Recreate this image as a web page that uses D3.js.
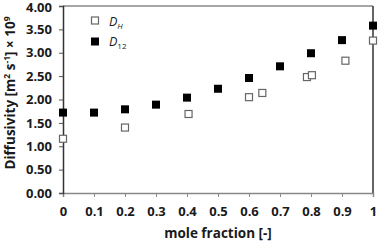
<!DOCTYPE html>
<html lang="en">
<head>
<meta charset="UTF-8">
<title>Diffusivity vs mole fraction</title>
<style>
  body { margin: 0; background: #fff; }
  svg text { font-family: "Open Sans", "Liberation Sans", sans-serif; font-weight: bold; fill: #1a1a1a; }
</style>
</head>
<body>
<div id="chart"></div>
<script src="https://d3js.org/d3.v7.min.js"></script>
<script>
const xTicks = [0, 0.1, 0.2, 0.3, 0.4, 0.5, 0.6, 0.7, 0.8, 0.9, 1]
const yTicks = [0, 0.5, 1, 1.5, 2, 2.5, 3, 3.5, 4]

// D12 (filled squares)
const d12X = [0, 0.1, 0.2, 0.3, 0.4, 0.5, 0.6, 0.7, 0.8, 0.9, 1]
const d12Y = [1.72, 1.72, 1.79, 1.89, 2.04, 2.23, 2.46, 2.71, 2.99, 3.27, 3.58]

// DH (open squares)
const dhX = [0, 0.2, 0.405, 0.6, 0.643, 0.787, 0.803, 0.911, 1]
const dhY = [1.16, 1.40, 1.69, 2.05, 2.14, 2.48, 2.52, 2.83, 3.26]

const width = 378
const height = 242
const plotLeft = 63, plotRight = 373, plotTop = 6, plotBottom = 193

const svg = d3.select('#chart')
    .append('svg')
    .attr('width', width)
    .attr('height', height)

const x = d3.scaleLinear().domain([0, 1]).range([plotLeft, plotRight])
const y = d3.scaleLinear().domain([0, 4]).range([plotBottom, plotTop])

// frame: top and right
svg.append('line')
    .attr('x1', plotLeft).attr('x2', plotRight)
    .attr('y1', plotTop).attr('y2', plotTop)
    .attr('stroke', '#888').attr('stroke-width', 1.5)
svg.append('line')
    .attr('x1', plotRight).attr('x2', plotRight)
    .attr('y1', plotTop).attr('y2', plotBottom)
    .attr('stroke', '#333').attr('stroke-width', 1.5)

const xAxis = svg.append('g')
    .attr('transform', `translate(0, ${plotBottom})`)
    .call(d3.axisBottom(x).tickValues(xTicks).tickSize(4).tickPadding(10)
        .tickFormat(d => d === 0 ? '0' : d === 1 ? '1' : d3.format('.1f')(d)))
xAxis.select('.domain').attr('stroke', '#888').attr('stroke-width', 1.5)
xAxis.selectAll('.tick line').attr('stroke', '#888')
xAxis.selectAll('text').style('font-size', '13px')

const yAxis = svg.append('g')
    .attr('transform', `translate(${plotLeft}, 0)`)
    .call(d3.axisLeft(y).tickValues(yTicks).tickSize(4).tickPadding(7).tickFormat(d3.format('.2f')))
yAxis.select('.domain').attr('stroke', '#333').attr('stroke-width', 1.5)
yAxis.selectAll('.tick line').attr('stroke', '#555')
yAxis.selectAll('text').style('font-size', '13px')
// keep the top label inside the window
yAxis.selectAll('.tick text').filter(d => d === 4).attr('dy', '0.45em')

// axis titles
svg.append('text')
    .attr('x', 218)
    .attr('y', 238)
    .attr('text-anchor', 'middle')
    .style('font-size', '13.5px')
    .text('mole fraction [-]')

const yt = svg.append('text')
    .attr('transform', `translate(15, 93) rotate(-90)`)
    .attr('text-anchor', 'middle')
    .style('font-size', '13.5px')
yt.append('tspan').text('Diffusivity [m')
yt.append('tspan').attr('dy', -5).style('font-size', '8.5px').text('2')
yt.append('tspan').attr('dy', 5).text(' s')
yt.append('tspan').attr('dy', -5).style('font-size', '8.5px').text('-1')
yt.append('tspan').attr('dy', 5).text('] × 10')
yt.append('tspan').attr('dy', -5).style('font-size', '8.5px').text('9')

// markers
const d12 = d12X.map((v, i) => ({ x: v, y: d12Y[i] }))
const dh = dhX.map((v, i) => ({ x: v, y: dhY[i] }))

svg.selectAll('.dh')
    .data(dh)
    .enter()
    .append('rect')
    .attr('class', 'dh')
    .attr('x', d => x(d.x) - 3.5)
    .attr('y', d => y(d.y) - 3.5)
    .attr('width', 7).attr('height', 7)
    .attr('fill', '#fff').attr('stroke', '#666').attr('stroke-width', 1.2)

svg.selectAll('.d12')
    .data(d12)
    .enter()
    .append('rect')
    .attr('class', 'd12')
    .attr('x', d => x(d.x) - 4)
    .attr('y', d => y(d.y) - 4)
    .attr('width', 8).attr('height', 8)
    .attr('fill', '#000')

// legend
svg.append('rect')
    .attr('x', 91.5).attr('y', 17)
    .attr('width', 7).attr('height', 7)
    .attr('fill', '#fff').attr('stroke', '#666').attr('stroke-width', 1.2)
svg.append('rect')
    .attr('x', 91).attr('y', 37.5)
    .attr('width', 8).attr('height', 8)
    .attr('fill', '#000')

const l1 = svg.append('text').attr('x', 109).attr('y', 26)
    .style('font-size', '12.5px').style('font-weight', 'normal').style('font-style', 'italic')
l1.append('tspan').text('D')
l1.append('tspan').attr('dy', 3).style('font-size', '8px').text('H')

const l2 = svg.append('text').attr('x', 109).attr('y', 46)
    .style('font-size', '12.5px').style('font-weight', 'normal').style('font-style', 'italic')
l2.append('tspan').text('D')
l2.append('tspan').attr('dy', 3).style('font-size', '8px').style('font-style', 'normal').text('12')
</script>
</body>
</html>
